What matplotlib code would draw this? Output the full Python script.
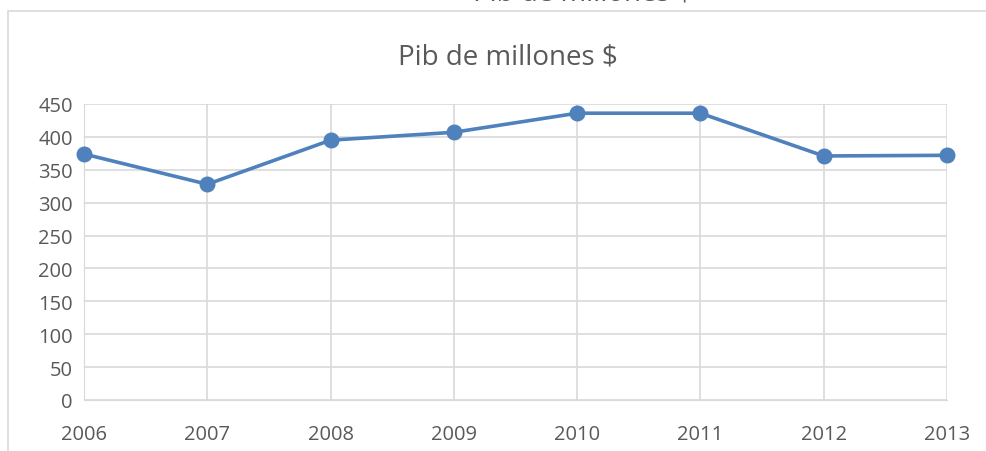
import matplotlib.pyplot as plt
from matplotlib.patches import Rectangle

years = ["2006", "2007", "2008", "2009", "2010", "2011", "2012", "2013"]
pib = [374, 328, 395, 407, 436, 436, 371, 372]
yticks = [0, 50, 100, 150, 200, 250, 300, 350, 400, 450]

plt.rcParams['font.family'] = ['Open Sans', 'DejaVu Sans']

fig = plt.figure(figsize=(9.87, 4.52), dpi=100)

# outer chart frame (partly cut off at right/bottom)
fig.patches.append(Rectangle((8 / 987, -0.1), 1.2, 1 - 12 / 452 + 0.1,
                             transform=fig.transFigure, fill=False,
                             edgecolor="#d9d9d9", linewidth=1.2))
# remnant of a title cut by the top of the picture
fig.text(583 / 987, 1 - 0.5 / 452, "Pib de millones $", ha="center", va="baseline",
         fontsize=20, color="#595959")

ax = fig.add_axes([84 / 987, 51 / 452, 863 / 987, 296 / 452])
x = range(len(years))
ax.plot(x, pib, color="#4f81bd", linewidth=2.6, marker="o", markersize=10.5,
        zorder=3, clip_on=False)

ax.set_xlim(0, len(years) - 1)
ax.set_ylim(0, 450)
ax.set_yticks(yticks)
ax.set_xticks(list(x))
ax.set_xticklabels(years)
ax.grid(True, color="#d9d9d9", linewidth=1.2)
ax.set_axisbelow(True)
for s in ["top", "right"]:
    ax.spines[s].set_visible(False)
ax.spines["left"].set_color("#d9d9d9")
ax.spines["bottom"].set_color("#d9d9d9")
ax.tick_params(length=0, labelsize=14.5, colors="#595959", pad=8)
ax.tick_params(axis="x", pad=17)

fig.text(508 / 987, 1 - 57 / 452, "Pib de millones $", ha="center", va="center",
         fontsize=20, color="#595959")

fig.savefig("out.png", dpi=100)
